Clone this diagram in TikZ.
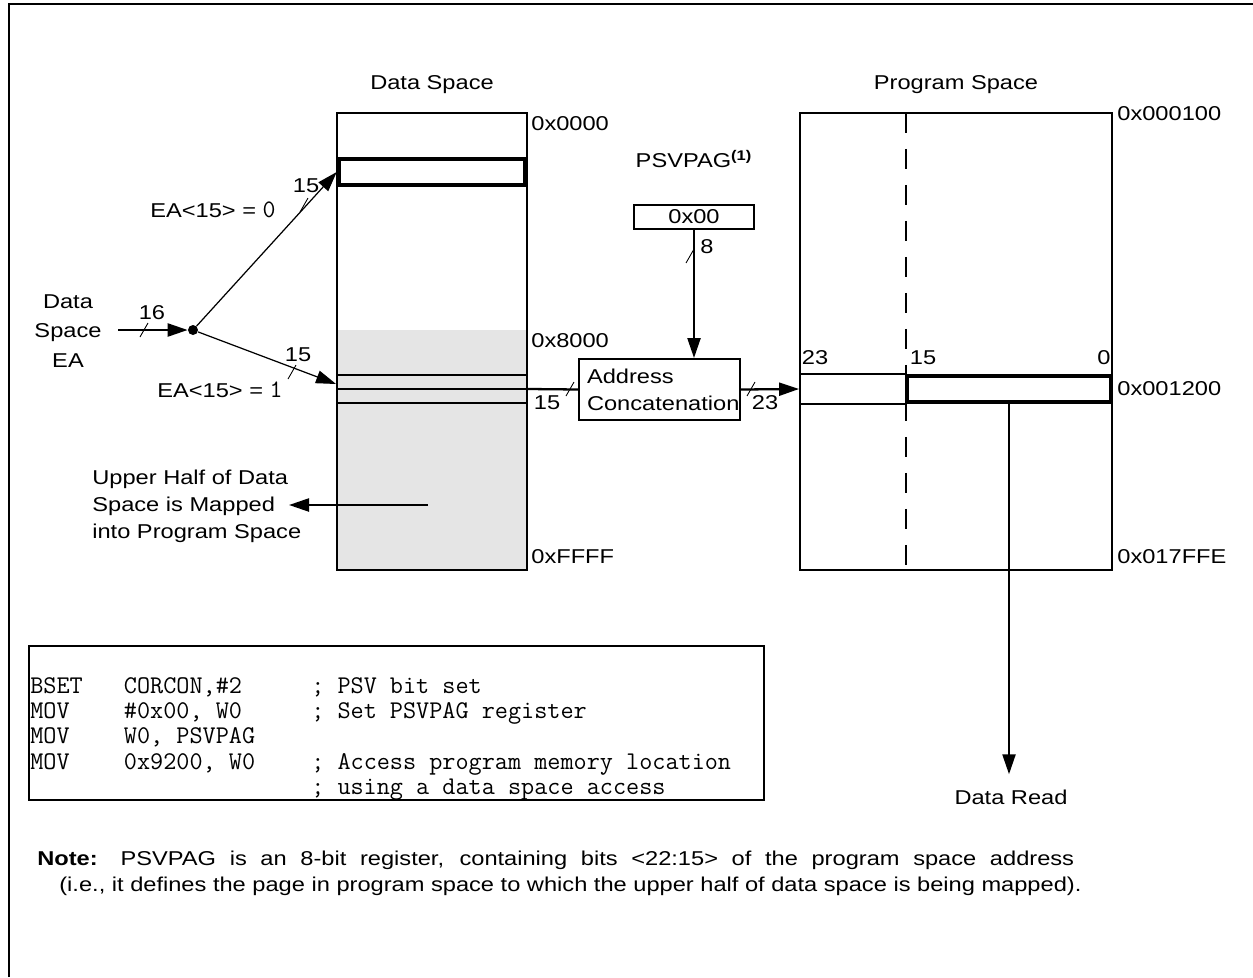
\documentclass[tikz,border=0pt]{standalone}
\usepackage{fontspec}
\setmainfont{Liberation Sans}[FakeStretch=1.18]
\usetikzlibrary{arrows.meta,positioning,calc}

\begin{document}
\begin{tikzpicture}[
    x=0.02cm, y=-0.02cm,
    font=\fontsize{11.4}{15.3}\selectfont,
    every node/.style={inner sep=0pt},
    memcol/.style={draw, line width=1.1pt},
    rowbox/.style={draw, line width=1.1pt, minimum height=0.56cm},
    selrow/.style={draw, line width=2.6pt, minimum height=0.52cm},
    regbox/.style={draw, line width=1.1pt},
    thinarrow/.style={-{Triangle[length=0.4cm,width=0.26cm]}, line width=0.7pt},
    busarrow/.style={-{Triangle[length=0.4cm,width=0.26cm]}, line width=1.3pt},
    busline/.style={line width=1.3pt},
    bustick/.pic={\draw[line width=0.5pt] (-4,7) -- (4,-7);},
    asmtext/.style={font=\ttfamily\fontsize{14.5}{14.45}\selectfont}
]
\useasboundingbox (0,0) rectangle (1253,977);
% outer frame
\draw[line width=1.7pt] (9,977) -- (9,4) -- (1253,4);

% data space
\fill[gray!20] (337,330) rectangle (527,570);
\node[memcol, minimum width=3.8cm, minimum height=9.14cm] (dspace) at (432,341.5) {};
\node (dslbl) at (432,85) {Data Space};
\node[selrow, minimum width=3.72cm] (dsrow0) at (432,172) {};
\node[rowbox, minimum width=3.8cm] (dsrow1) at (432,389) {};
\draw[line width=1.1pt] (dsrow1.west) -- (dsrow1.east);
\node[anchor=west] (ds0000) at (531,124) {0x0000};
\node[anchor=west] (ds8000) at (531,341) {0x8000};
\node[anchor=west] (dsffff) at (531,557) {0xFFFF};

% program space
\node[memcol, minimum width=6.24cm, minimum height=9.14cm] (pspace) at (956,341.5) {};
\node (pslbl) at (956,85) {Program Space};
\draw[line width=1.1pt, dash pattern=on 0.4cm off 0.32cm] (906,113) -- (906,570);
\node[selrow, minimum width=4.08cm] (psrow) at (1009,389) {};
\draw[line width=1.1pt] (psrow.north west) -- (pspace.west |- psrow.north);
\draw[line width=1.1pt] (psrow.south west) -- (pspace.west |- psrow.south);
\node (b23) at (815,358) {23};
\node (b15) at (923,358) {15};
\node (b0) at (1104,358) {0};
\node[anchor=west] (ps0100) at (1117,114) {0x000100};
\node[anchor=west] (ps1200) at (1117,389) {0x001200};
\node[anchor=west] (ps7ffe) at (1117,557) {0x017FFE};

% effective address input
\node[align=center, font=\fontsize{11.4}{17}\selectfont] (ealbl) at (68,331) {Data\\Space\\EA};
\coordinate (eain) at (118,330);
\node[circle, fill, minimum size=0.2cm] (junc) at (193,330) {};
\draw[busarrow] (eain) -- (junc);
\pic at (144,330) {bustick};
\node (w16) at (152,313) {16};
\draw[thinarrow] (junc) -- (dsrow0.west);
\pic at (304,205) {bustick};
\node (w15a) at (306,186) {15};
\node (ea0) at (213,210) {EA<15> = {\ttfamily\fontsize{14.3}{15}\selectfont 0}};
\draw[thinarrow] (junc) -- ($(dsrow1.west)+(0,-5)$);
\pic at (292,372) {bustick};
\node (w15b) at (298,355) {15};
\node (ea1) at (220,390) {EA<15> = {\ttfamily\fontsize{14.3}{15}\selectfont 1}};

% page register and concatenation
\node (pglbl) at (694,159) {PSVPAG\textsuperscript{\textbf{(1)}}};
\node[regbox, minimum width=2.4cm, minimum height=0.48cm] (psvpag) at (694,217) {0x00};
\node[regbox, align=left, text width=2.9cm, inner xsep=0.16cm, minimum height=1.22cm] (concat) at (659.5,389.5) {Address\\Concatenation};
\draw[busarrow] (psvpag.south) -- (psvpag.south |- concat.north);
\pic at (690,256) {bustick};
\node (w8) at (707,247) {8};
\draw[busline] (dsrow1.east) -- (concat.west);
\pic at (570,389) {bustick};
\node (w15c) at (547,403) {15};
\coordinate (psin) at (pspace.west |- dsrow1.east);
\draw[busarrow] (concat.east) -- (psin);
\pic at (751,389) {bustick};
\node (w23) at (765,403) {23};

% data read
\node (dread) at (1011,797) {Data Read};
\draw[busarrow, shorten >=0.3cm] (psrow.south) -- (psrow.south |- dread.north);

% mapping note
\node[anchor=west, align=left] (maptxt) at (92,506) {Upper Half of Data\\Space is Mapped\\into Program Space};
\coordinate (mapsrc) at (428,505);
\coordinate (maptip) at (289,505);
\draw[busarrow] (mapsrc) -- (maptip);

% code example
\node[draw, line width=1.1pt, anchor=north west, minimum width=14.7cm, minimum height=3.08cm] (codebox) at (28,645) {};
\node[asmtext, anchor=base west] (code) at (30,693) {%
\begin{tabular}[t]{@{}p{53.3pt}@{}p{106.6pt}@{}l@{}}
BSET & CORCON,\#2 & ; PSV bit set\\
MOV & \#0x00, W0 & ; Set PSVPAG register\\
MOV & W0, PSVPAG & \\
MOV & 0x9200, W0 & ; Access program memory location\\
 & & ; using a data space access
\end{tabular}};

% footnote
\node[anchor=west] (note1) at (37,860) {\makebox[20.74cm][s]{\textbf{Note:} PSVPAG is an 8-bit register, containing bits <22:15> of the program space address}};
\node[anchor=west] (note2) at (59,886) {(i.e., it defines the page in program space to which the upper half of data space is being mapped).};
\end{tikzpicture}
\end{document}
